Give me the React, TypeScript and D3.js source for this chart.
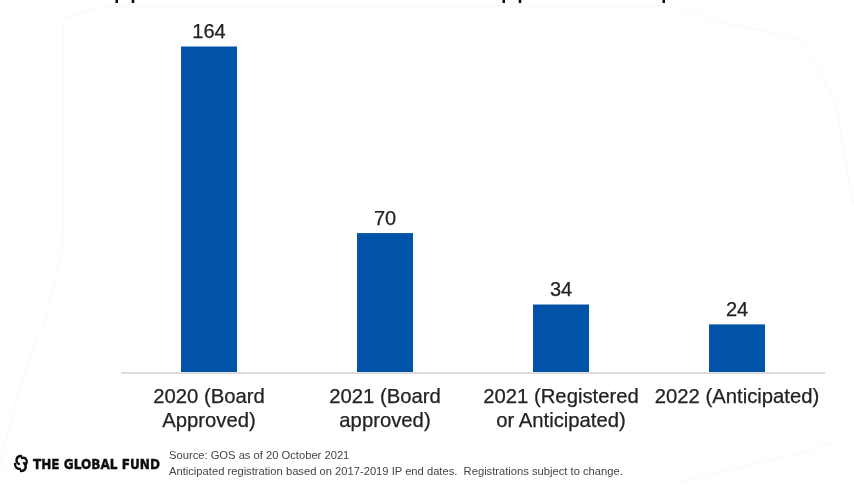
import React from "react";
import * as d3 from "d3";

const categories = ["2020 (Board|Approved)", "2021 (Board|approved)", "2021 (Registered|or Anticipated)", "2022 (Anticipated)"];
const values = [164, 70, 34, 24];
const footerLines = ["Source: GOS as of 20 October 2021", "Anticipated registration based on 2017-2019 IP end dates.  Registrations subject to change."];
const logoText = "THE GLOBAL FUND";
const clippedTitleFragments: [string, number][] = [["pp", 113.5], ["pp", 500.5], ["p", 660.5]];
const outlineOuter: [number, number][] = [[854, 205], [845, 160], [835, 100], [815, 65], [800, 40], [760, 30], [720, 22], [670, 6], [107, 6], [65, 18], [63, 25], [63, 230], [61, 255], [45, 320], [30, 355], [14, 410], [2, 455], [2, 470]];
const outlineBottom: [number, number][] = [[680, 482], [750, 465], [805, 452], [822, 444], [832, 443]];

const W = 854, H = 485;
const FONT = "'Liberation Sans', Arial, sans-serif";

export default function App() {
  const x = d3.scaleBand<number>().domain(d3.range(values.length)).range([121, 825]).paddingInner(0.682).paddingOuter(0.341);
  const y = d3.scaleLinear().domain([0, 164]).range([372, 46.5]);
  const line = d3.line();
  return (
    <svg width={W} height={H} viewBox={`0 0 ${W} ${H}`} style={{ position: "absolute", left: 0, top: 0, background: "#fff" }} fontFamily={FONT}>
      <defs>
        <filter id="soft" x="-5%" y="-5%" width="110%" height="110%"><feGaussianBlur stdDeviation="0.5" /></filter>
      </defs>
      <g fill="none" stroke="#f5f5f5" strokeWidth={0.7}>
        <path d={line(outlineOuter)!} />
        <path d={line(outlineBottom)!} />
      </g>
      <g filter="url(#soft)">
        {clippedTitleFragments.map(([t, px], i) => (
          <text key={i} x={px} y={-3} fontSize={29} fill="#111">{t}</text>
        ))}
        <line x1={121} x2={825} y1={373} y2={373} stroke="#dddddd" strokeWidth={2} />
        {values.map((v, i) => (
          <rect key={i} x={x(i)!} y={y(v)} width={x.bandwidth()} height={y(0) - y(v)} fill="#0052a6" />
        ))}
        <g stroke="#222" strokeWidth={0.25} fill="#222">
          {values.map((v, i) => (
            <text key={i} x={x(i)! + x.bandwidth() / 2} y={y(v) - 8.5} textAnchor="middle" fontSize={20}>{v}</text>
          ))}
          {categories.map((c, i) => (
            <text key={i} textAnchor="middle" fontSize={20.3}>
              {c.split("|").map((l, j) => (
                <tspan key={j} x={x(i)! + x.bandwidth() / 2} y={403 + j * 24}>{l}</tspan>
              ))}
            </text>
          ))}
        </g>
        {footerLines.map((l, i) => (
          <text key={i} x={169} y={459 + i * 15.5} fontSize={11.2} fill="#444" style={{ whiteSpace: "pre" }}>{l}</text>
        ))}
        <g fill="none" stroke="#111" strokeWidth={2.4} strokeLinecap="round">
          <path d="M21 456 C16 456 15 462 19 464" />
          <path d="M22 458 C26 457 28 461 26 464" />
          <path d="M21 471 C26 471 27 466 24 463" />
          <path d="M20 469 C17 469 15 467 15 464" />
        </g>
        <text x={33} y={468.5} fontSize={13.5} fontWeight={700} fontFamily="'DejaVu Sans', sans-serif" fill="#111" stroke="#111" strokeWidth={0.4} textLength={127} lengthAdjust="spacingAndGlyphs">{logoText}</text>
      </g>
    </svg>
  );
}
